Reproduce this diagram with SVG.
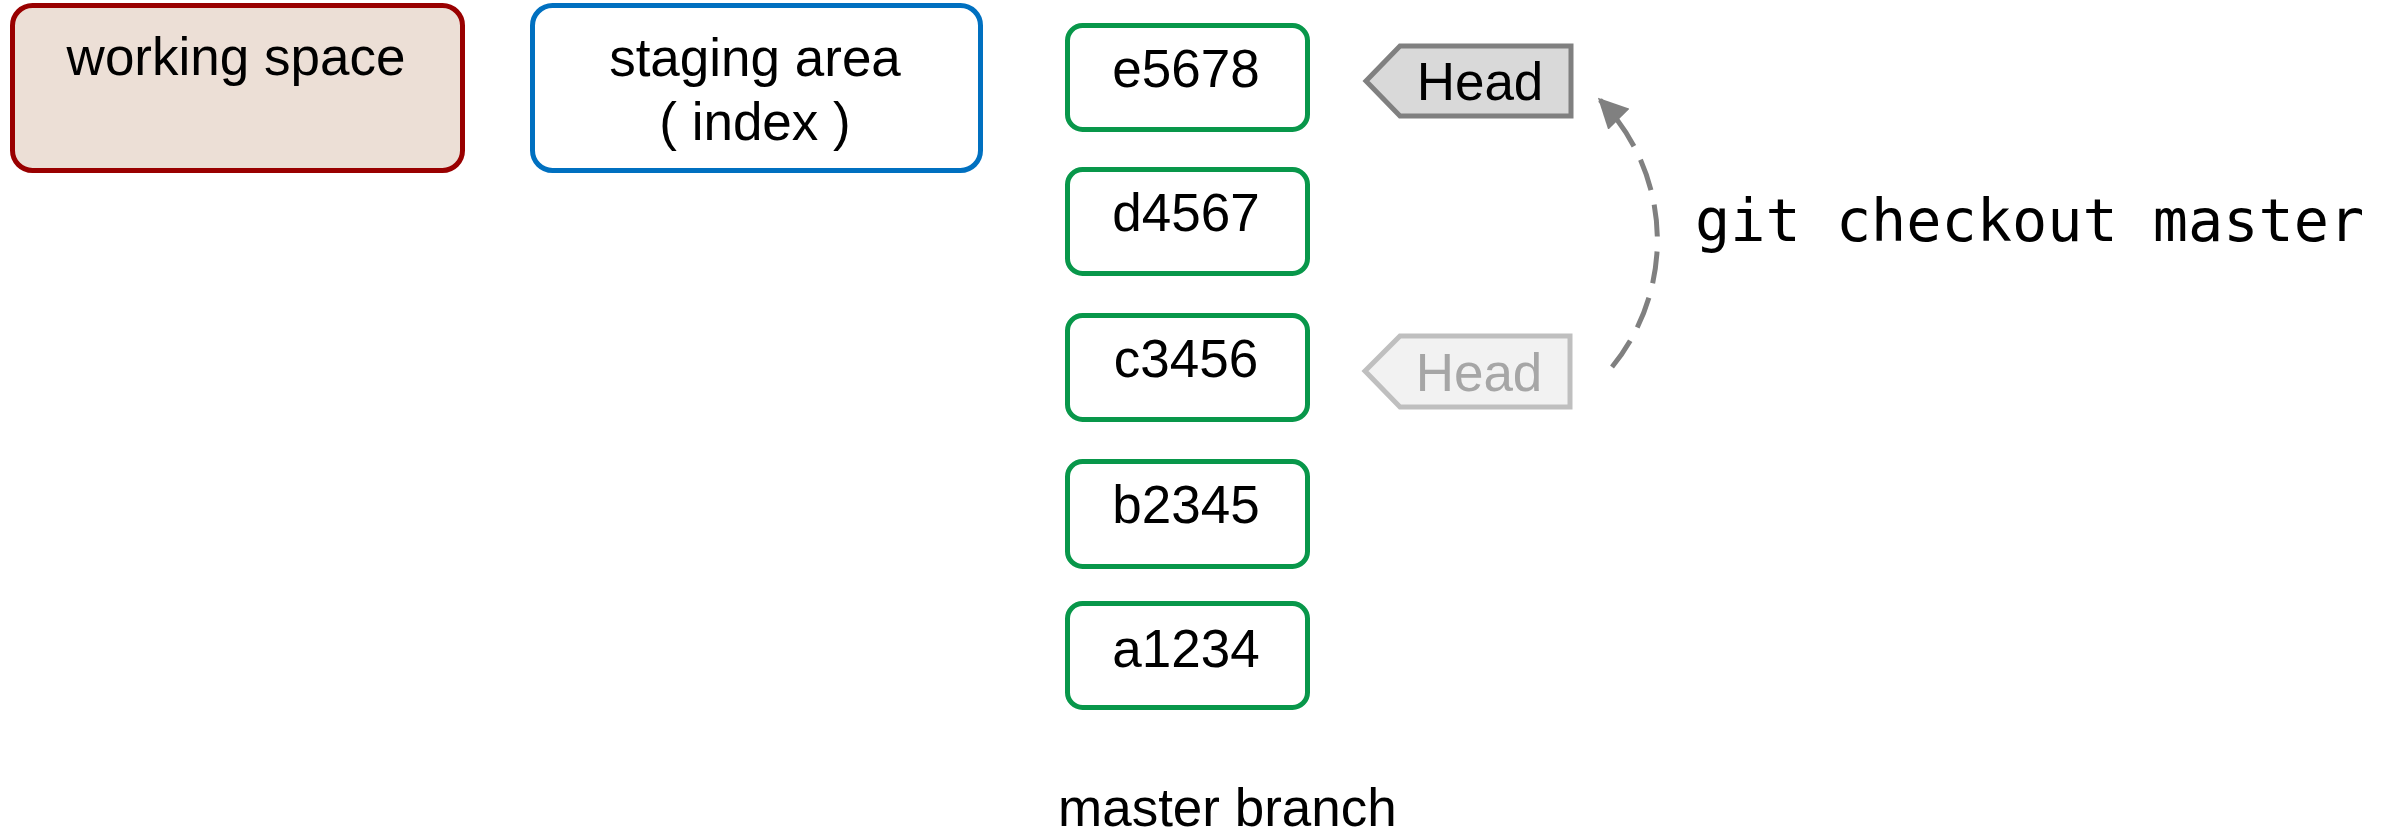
<svg xmlns="http://www.w3.org/2000/svg" width="2399" height="836" viewBox="0 0 2399 836">
  <style>
    .t { font-family: "Liberation Sans", Arial, sans-serif; font-size: 53px; fill: #000; }
    .commit { fill: #ffffff; stroke: #08974a; stroke-width: 5; }
    .mono { font-family: "DejaVu Sans Mono", "Liberation Mono", monospace; font-size: 58.5px; fill: #000; }
  </style>
  <defs>
    <marker id="arrow" viewBox="0 0 10 10" refX="9" refY="5" markerWidth="6" markerHeight="6" orient="auto" markerUnits="strokeWidth">
      <path d="M0,0 L10,5 L0,10 z" fill="#808080"/>
    </marker>
  </defs>
  <rect width="2399" height="836" fill="#ffffff"/>

  <g id="working-space">
    <rect x="12.5" y="5.5" width="450" height="165" rx="20" fill="#ecdfd6" stroke="#990000" stroke-width="5"/>
    <text class="t" x="236" y="75" text-anchor="middle">working space</text>
  </g>

  <g id="staging-area">
    <rect x="532.5" y="5.5" width="448" height="165" rx="20" fill="#ffffff" stroke="#0070c0" stroke-width="5"/>
    <text class="t" x="755" y="76" text-anchor="middle">staging area</text>
    <text class="t" x="755" y="140" text-anchor="middle">( index )</text>
  </g>

  <g id="commit-e5678">
    <rect class="commit" x="1067.5" y="25.5" width="240" height="104" rx="15"/>
    <text class="t" x="1186" y="87" text-anchor="middle">e5678</text>
  </g>
  <g id="commit-d4567">
    <rect class="commit" x="1067.5" y="169.5" width="240" height="104" rx="15"/>
    <text class="t" x="1186" y="231" text-anchor="middle">d4567</text>
  </g>
  <g id="commit-c3456">
    <rect class="commit" x="1067.5" y="315.5" width="240" height="104" rx="15"/>
    <text class="t" x="1186" y="377" text-anchor="middle">c3456</text>
  </g>
  <g id="commit-b2345">
    <rect class="commit" x="1067.5" y="461.5" width="240" height="105" rx="15"/>
    <text class="t" x="1186" y="523" text-anchor="middle">b2345</text>
  </g>
  <g id="commit-a1234">
    <rect class="commit" x="1067.5" y="603.5" width="240" height="104" rx="15"/>
    <text class="t" x="1186" y="667" text-anchor="middle">a1234</text>
  </g>

  <g id="head-new">
    <path d="M1366,81 L1400,46 L1571,46 L1571,116 L1400,116 Z" fill="#d9d9d9" stroke="#808080" stroke-width="5" stroke-linejoin="miter"/>
    <text class="t" x="1480" y="100" text-anchor="middle" font-size="52">Head</text>
  </g>

  <g id="head-old">
    <path d="M1365,371 L1400,336 L1570,336 L1570,407 L1400,407 Z" fill="#f2f2f2" stroke="#bfbfbf" stroke-width="5" stroke-linejoin="miter"/>
    <text class="t" x="1479" y="391" text-anchor="middle" font-size="52" style="fill:#a6a6a6">Head</text>
  </g>

  <g id="connectors">
    <path d="M1612,367 A200,200 0 0 0 1600,100" fill="none" stroke="#808080" stroke-width="5" stroke-dasharray="32,15" marker-end="url(#arrow)"/>
  </g>

  <g id="labels">
    <text class="mono" x="1695" y="241">git checkout master</text>
    <text class="t" x="1058" y="826">master branch</text>
  </g>
</svg>
